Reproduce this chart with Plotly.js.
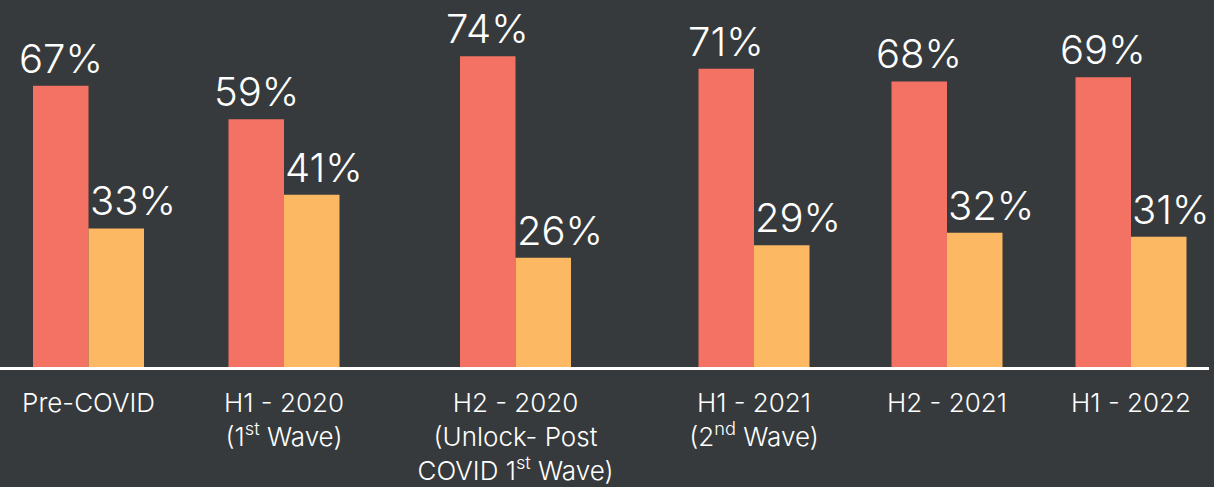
<!DOCTYPE html>
<html>
<head>
<meta charset="utf-8">
<script src="https://cdn.plot.ly/plotly-3.0.1.min.js"></script>
<style>html,body{margin:0;padding:0;background:#373a3c;}#chart{width:1214px;height:487px;}</style>
</head>
<body>
<div id="chart"></div>
<script>
// Data
var categories = ["Pre-COVID", "H1 - 2020<br>(1<sup>st</sup> Wave)", "H2 - 2020<br>(Unlock- Post<br>COVID 1<sup>st</sup> Wave)", "H1 - 2021<br>(2<sup>nd</sup> Wave)", "H2 - 2021", "H1 - 2022"];
var seriesA = [67, 59, 74, 71, 68, 69];
var seriesB = [33, 41, 26, 29, 32, 31];

// Layout positions (group centres along the x axis) and styles
var groupPos = [88.5, 284, 515.5, 754, 947, 1131];
var barW = 55.5;
var colA = "#f47263";
var colB = "#fdb863";
var bg = "#373a3c";
var font = "Inter, Lato, sans-serif";

var traces = [
  {type: "bar", x: groupPos, y: seriesA, width: barW, offset: -barW, marker: {color: colA}, hoverinfo: "skip"},
  {type: "bar", x: groupPos, y: seriesB, width: barW, offset: 0, marker: {color: colB}, hoverinfo: "skip"}
];

var annotations = [];
groupPos.forEach(function (p, i) {
  annotations.push({x: p - barW / 2, y: seriesA[i], xref: "x", yref: "y", text: seriesA[i] + "%",
    showarrow: false, xanchor: "center", yanchor: "bottom", yshift: 1,
    font: {family: font, size: 40, color: "#ffffff", weight: 300}});
  annotations.push({x: p, y: seriesB[i], xref: "x", yref: "y", text: seriesB[i] + "%",
    showarrow: false, xanchor: "left", yanchor: "bottom", yshift: 1, xshift: -1,
    font: {family: font, size: 40, color: "#ffffff", weight: 300}});
});

var layout = {
  width: 1214, height: 487,
  margin: {l: 0, r: 5, t: 0, b: 120},
  paper_bgcolor: bg, plot_bgcolor: bg,
  showlegend: false,
  xaxis: {range: [0, 1209], tickmode: "array", tickvals: groupPos, ticktext: categories,
    showgrid: false, zeroline: false, showline: true, linecolor: "#ffffff", linewidth: 3,
    ticks: "", ticklabelstandoff: 11, tickfont: {family: font, size: 26, color: "#ffffff", weight: 300}, fixedrange: true},
  yaxis: {range: [0, 87.4], visible: false, showgrid: false, zeroline: false, fixedrange: true},
  annotations: annotations
};

Plotly.newPlot("chart", traces, layout, {displayModeBar: false, staticPlot: true});
</script>
</body>
</html>
